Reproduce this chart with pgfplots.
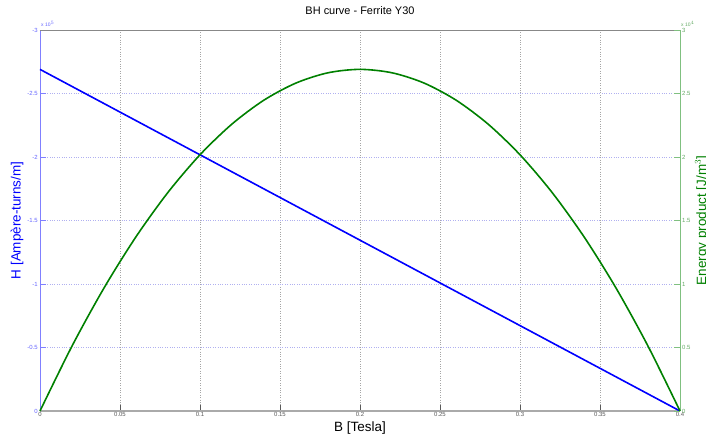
\documentclass[border=0pt]{standalone}
\usepackage{pgfplots}
\pgfplotsset{compat=1.18}
\usepackage{fontspec}
\setmainfont{Liberation Sans}
\definecolor{hblue}{RGB}{0,0,255}
\definecolor{bspine}{RGB}{128,128,255}
\definecolor{btick}{RGB}{100,100,255}
\definecolor{egreen}{RGB}{0,128,0}
\definecolor{espine}{RGB}{128,192,128}
\definecolor{etick}{RGB}{100,170,100}
\definecolor{gridb}{RGB}{176,176,240}
\definecolor{xspine}{RGB}{170,170,170}
\begin{document}
\begin{tikzpicture}
\begin{axis}[
  at={(0,0)}, anchor=south west,
  width=640bp, height=381bp, scale only axis,
  xmin=0, xmax=0.4, ymin=-300000, ymax=0, y dir=reverse,
  scaled y ticks=false, scaled x ticks=false,
  axis x line*=bottom, axis y line*=left,
  x axis line style={-, draw=xspine, line width=1.3bp},
  y axis line style={-, draw=bspine, line width=0.9bp},
  tick align=inside, major tick length=6bp,
  xtick={0,0.05,0.1,0.15,0.2,0.25,0.3,0.35,0.4},
  xticklabels={0,0.05,0.1,0.15,0.2,0.25,0.3,0.35,0.4},
  ytick={-300000,-250000,-200000,-150000,-100000,-50000,0},
  yticklabels={-3,-2.5,-2,-1.5,-1,-0.5,0},
  xtick style={draw=gray!70!black, line width=0.6bp},
  ytick style={draw=bspine, line width=0.6bp},
  xticklabel style={font=\fontsize{6}{7}\selectfont, text=gray!70!black, inner sep=1.5bp},
  yticklabel style={font=\fontsize{6}{7}\selectfont, text=btick, inner sep=2bp},
  grid=major,
  x grid style={gray!70, line width=0.5bp, dash pattern=on 0.8bp off 1.6bp},
  y grid style={gridb, line width=0.6bp, dash pattern=on 0.8bp off 1.6bp},
  title={BH curve - Ferrite Y30},
  title style={font=\fontsize{11}{13}\selectfont, at={(axis description cs:0.5,1)}, anchor=south, yshift=9bp, inner sep=0pt},
  xlabel={B [Tesla]},
  xlabel style={font=\fontsize{13.5}{15}\selectfont, at={(axis description cs:0.5,0)}, anchor=center, yshift=-17bp, inner sep=0pt},
  ylabel={H [Ampère-turns/m]},
  every axis y label/.style={at={([xshift=-23bp]axis description cs:0,0.5)}, rotate=90, anchor=center, inner sep=0pt, font=\fontsize{13.5}{15}\selectfont, text=hblue},
  clip=false,
]
\addplot[hblue, line width=1.6bp] coordinates {(0,-269000) (0.4,0)};
\draw[xspine!80!black, line width=0.9bp] (axis description cs:0,1) -- (axis description cs:1,1);
\node[anchor=south west, inner sep=0pt, font=\fontsize{5}{6}\selectfont, text=btick] at ([xshift=1bp,yshift=3bp]axis description cs:0,1) {x 10$^{5}$};
\end{axis}
\begin{axis}[
  at={(0,0)}, anchor=south west,
  width=640bp, height=381bp, scale only axis,
  xmin=0, xmax=0.4, ymin=0, ymax=30000,
  scaled y ticks=false,
  axis x line=none, axis y line*=right,
  y axis line style={-, draw=espine, line width=0.9bp},
  tick align=inside, major tick length=6bp,
  ytick={0,5000,10000,15000,20000,25000,30000},
  yticklabels={0,0.5,1,1.5,2,2.5,3},
  ytick style={draw=espine, line width=0.6bp},
  yticklabel style={font=\fontsize{6}{7}\selectfont, text=etick, inner sep=2bp},
  ylabel={Energy product [J/m$^{3}$]},
  every axis y label/.style={at={([xshift=22bp]axis description cs:1,0.5)}, rotate=90, anchor=center, inner sep=0pt, font=\fontsize{13.5}{15}\selectfont, text=egreen},
  clip=false,
]
\addplot[egreen, line width=1.6bp, smooth] coordinates {
(0,0) (0.02,5111) (0.04,9684) (0.06,13719) (0.08,17216) (0.10,20175)
(0.12,22596) (0.14,24479) (0.16,25824) (0.18,26631) (0.20,26900)
(0.22,26631) (0.24,25824) (0.26,24479) (0.28,22596) (0.30,20175)
(0.32,17216) (0.34,13719) (0.36,9684) (0.38,5111) (0.40,0)};
\node[anchor=south west, inner sep=0pt, font=\fontsize{5}{6}\selectfont, text=etick] at ([xshift=1bp,yshift=3bp]axis description cs:1,1) {x 10$^{4}$};
\end{axis}
\pgfresetboundingbox
\useasboundingbox (-40bp,-23bp) rectangle (666bp,411bp);
\end{tikzpicture}
\end{document}
